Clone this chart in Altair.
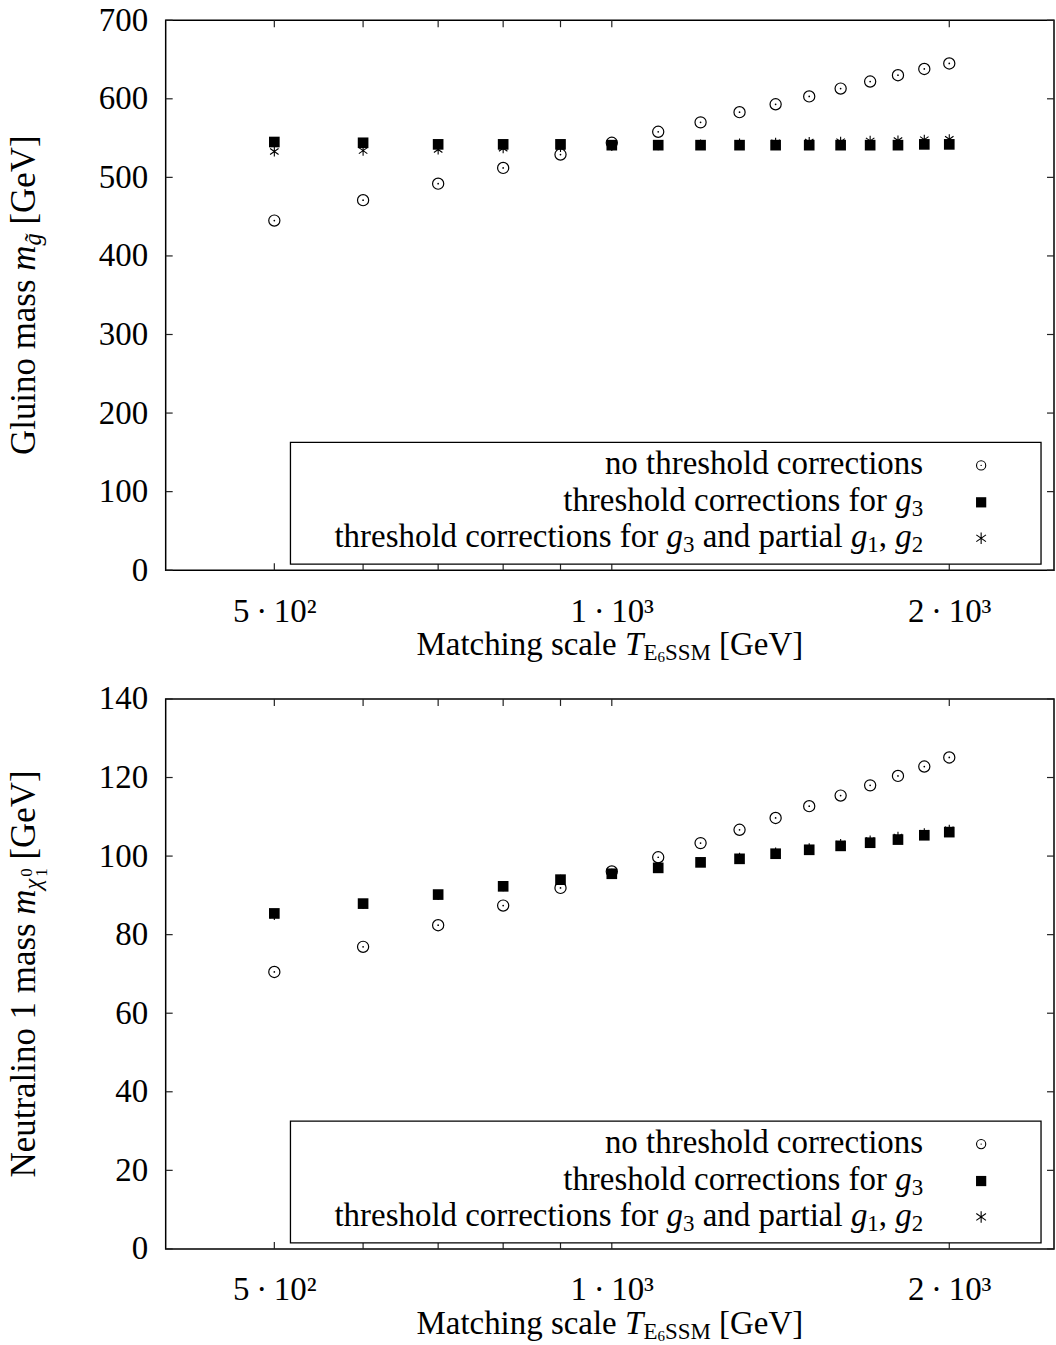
import unicodedata
import altair as alt
import pandas as pd

FONT = "Liberation Serif"
FS = 33      # main text size
SUB = 23     # subscript size
SSZ = 15     # sub-subscript size

# ---------------- data ----------------
T_SCALE = [500, 600, 700, 800, 900, 1000, 1100, 1200, 1300, 1400,
           1500, 1600, 1700, 1800, 1900, 2000]

GLUINO_NONE = [445, 471, 492, 512, 529, 544, 558, 570, 583, 593,
               603, 613, 622, 630, 638, 645]
GLUINO_G3 = [545, 544, 542, 542, 542, 541, 541, 541, 541, 541,
             541, 541, 541, 541, 542, 542]
GLUINO_G3_G12 = [533, 534, 535.5, 537, 538.5, 540, 541, 542, 543, 544,
                 545, 545.5, 546.5, 547, 548, 548.5]

NEUT_NONE = [70.5, 76.9, 82.4, 87.4, 91.9, 96.1, 99.7, 103.3, 106.7, 109.7,
             112.7, 115.4, 118.0, 120.4, 122.8, 125.1]
NEUT_G3 = [85.4, 87.9, 90.2, 92.3, 94.0, 95.5, 97.0, 98.4, 99.3, 100.6,
           101.6, 102.6, 103.4, 104.2, 105.3, 106.1]
NEUT_G3_G12 = [85.0, 87.8, 90.1, 92.3, 94.0, 95.5, 97.1, 98.5, 99.6, 100.9,
               102.0, 103.1, 104.0, 104.9, 105.8, 106.7]

X_DOMAIN = [400, 2480]
X_TICKS = [500, 600, 700, 800, 900, 1000, 2000]
X_LABEL_VALUES = [500, 1000, 2000]
X_LABEL_TEXT = ["5\u2009·\u200910²", "1\u2009·\u200910³", "2\u2009·\u200910³"]

GLUINO_YTICKS = [0, 100, 200, 300, 400, 500, 600, 700]
NEUT_YTICKS = [0, 20, 40, 60, 80, 100, 120, 140]

# rich-text pieces: (text, style)
X_TITLE = [("Matching scale", "rm"), ("", "gap"), ("T", "it"), ("E", "sub"),
           ("6", "subsub"), ("SSM", "sub"), ("", "gap"), ("[GeV]", "rm")]
GLUINO_TITLE = [("Gluino mass", "rm"), ("", "gap"), ("m", "it"),
                ("g\u0303", "subit"), ("", "gap"), ("[GeV]", "rm")]
NEUT_TITLE = [("Neutralino 1 mass", "rm"), ("", "gap"), ("m", "it"),
              ("χ", "subit"), ("0", "sup0"), ("1", "subsub2"), ("", "gap"),
              ("[GeV]", "rm")]
LEGEND_ROWS = [
    [("no threshold corrections", "rm")],
    [("threshold corrections for", "rm"), ("", "gap"), ("g", "it"), ("3", "sub")],
    [("threshold corrections for", "rm"), ("", "gap"), ("g", "it"), ("3", "sub"),
     ("", "gap"), ("and partial", "rm"), ("", "gap"), ("g", "it"), ("1", "sub"),
     (",", "rm"), ("", "gap"), ("g", "it"), ("2", "sub")],
]

# ---------------- layout ----------------
W, H = 890, 551
TL = 7
ONE = alt.Data(values=[{"k": 0}])

ROMAN = {' ': 250, '[': 333, ']': 333, ',': 250, 'a': 444, 'c': 444, 'd': 500,
         'e': 444, 'f': 333, 'g': 500, 'h': 500, 'i': 278, 'l': 278, 'm': 778,
         'n': 500, 'o': 500, 'p': 500, 'r': 333, 's': 389, 't': 278, 'u': 500,
         'M': 889, 'G': 722, 'N': 722, 'V': 722, 'E': 611, 'S': 556, 'T': 611}
ITALIC = {'T': 556, 'm': 722, 'g': 500, 'χ': 520}

# style: size, italic, baseline shift, advances
STYLE = {"rm": (FS, False, 0, True), "it": (FS, True, 0, True),
         "sub": (SUB, False, 5, True), "subit": (SUB, True, 6, True),
         "subsub": (SSZ, False, 7, True), "subsub2": (16, False, 11, True),
         "sup0": (16, False, -3, False), "gap": (FS, False, 0, True)}


def tw(text, st, k=1.0):
    size, italic, _, adv = STYLE[st]
    if st == "gap":
        return 0.25 * FS * k
    if not adv:
        return 0.0
    tab = ITALIC if italic else ROMAN
    tot = 0
    for ch in text:
        if unicodedata.combining(ch):
            continue
        tot += tab.get(ch, ROMAN.get(ch, 500))
    return tot * size * k / 1000.0


def run_width(parts, k=1.0):
    return sum(tw(t, s, k) for t, s in parts)


def text_layer(text, x, y, size, italic=False, angle=0):
    return alt.Chart(ONE).mark_text(
        text=text, align="left", baseline="alphabetic", font=FONT,
        fontSize=size, fontStyle="italic" if italic else "normal",
        angle=angle, color="black").encode(x=alt.value(x), y=alt.value(y))


def hrun(parts, x0, y0):
    out, x = [], x0
    for text, st in parts:
        size, italic, dy, adv = STYLE[st]
        if st != "gap":
            out.append(text_layer(text, x, y0 + dy, size, italic))
        x += tw(text, st)
    return out


def vrun(parts, x0, y0, k=1.0):
    out, y = [], y0
    for text, st in parts:
        size, italic, dy, adv = STYLE[st]
        if st != "gap":
            out.append(text_layer(text, x0 + dy * k, y, size * k, italic,
                                  angle=270))
        y -= tw(text, st, k)
    return out


STAR = "M0,-1L0,1M-0.85,-0.6L0.85,0.6M-0.85,0.6L0.85,-0.6"

label_expr = " : ".join(
    f"datum.value == {v} ? '{t}'" for v, t in zip(X_LABEL_VALUES, X_LABEL_TEXT)
) + " : ''"

XS = alt.Scale(type="log", domain=X_DOMAIN, nice=False)
XAX = alt.Axis(values=X_LABEL_VALUES, labelExpr=label_expr, title=None,
               labelPadding=25, tickSize=0, ticks=False, domain=False,
               grid=False, labelFlush=False, labelOverlap=False,
               labelFont=FONT, labelFontSize=FS, labelColor="black")

YTITLE_K = 1.06


def panel(ytop, yticks, s_none, s_g3, s_g12, ytitle):
    YS = alt.Scale(domain=[0, ytop], nice=False, zero=True)
    YAX = alt.Axis(values=yticks, format="d", title=None, labelPadding=18,
                   tickSize=0, ticks=False, domain=False, grid=False,
                   minExtent=165, maxExtent=165, labelFont=FONT,
                   labelFontSize=FS, labelColor="black")

    def X(f):
        return alt.X(f, type="quantitative", scale=XS, axis=XAX)

    def Y(f):
        return alt.Y(f, type="quantitative", scale=YS, axis=YAX)

    d_none = pd.DataFrame({"T": T_SCALE, "m": s_none})
    d_g3 = pd.DataFrame({"T": T_SCALE, "m": s_g3})
    d_g12 = pd.DataFrame({"T": T_SCALE, "m": s_g12})
    xt = pd.DataFrame({"t": X_TICKS})
    yt = pd.DataFrame({"v": yticks})

    tick_style = dict(color="#222222", strokeWidth=1.2)
    layers = [
        alt.Chart(xt).mark_rule(**tick_style).encode(
            x=X("t"), y=alt.value(H), y2=alt.value(H - TL)),
        alt.Chart(xt).mark_rule(**tick_style).encode(
            x=X("t"), y=alt.value(0), y2=alt.value(TL)),
        alt.Chart(yt).mark_rule(**tick_style).encode(
            y=Y("v"), x=alt.value(0), x2=alt.value(TL)),
        alt.Chart(yt).mark_rule(**tick_style).encode(
            y=Y("v"), x=alt.value(W - TL), x2=alt.value(W)),
        # no threshold corrections: open circle with centre dot
        alt.Chart(d_none).mark_point(shape="circle", filled=False, size=125,
                                     stroke="black", strokeWidth=1.2,
                                     opacity=1).encode(x=X("T"), y=Y("m")),
        alt.Chart(d_none).mark_point(shape="circle", filled=True, size=3,
                                     color="black", opacity=1).encode(
            x=X("T"), y=Y("m")),
        # threshold corrections for g3: filled square
        alt.Chart(d_g3).mark_point(shape="square", filled=True, size=114,
                                   color="black", opacity=1).encode(
            x=X("T"), y=Y("m")),
        # g3 and partial g1, g2: star
        alt.Chart(d_g12).mark_point(shape=STAR, filled=False, size=100,
                                    stroke="black", strokeWidth=1.1,
                                    opacity=1).encode(x=X("T"), y=Y("m")),
        # legend box
        alt.Chart(ONE).mark_rect(fill="white", stroke="black",
                                 strokeWidth=1.3).encode(
            x=alt.value(125), x2=alt.value(877),
            y=alt.value(423), y2=alt.value(545)),
    ]
    row_y = [446, 483, 519]
    for parts, ry in zip(LEGEND_ROWS, row_y):
        layers += hrun(parts, 759 - run_width(parts), ry + 9)
    layers += [
        alt.Chart(ONE).mark_point(shape="circle", filled=False, size=85,
                                  stroke="black", strokeWidth=1.1,
                                  opacity=1).encode(
            x=alt.value(817), y=alt.value(row_y[0])),
        alt.Chart(ONE).mark_point(shape="circle", filled=True, size=2,
                                  color="black", opacity=1).encode(
            x=alt.value(817), y=alt.value(row_y[0])),
        alt.Chart(ONE).mark_point(shape="square", filled=True, size=105,
                                  color="black", opacity=1).encode(
            x=alt.value(817), y=alt.value(row_y[1])),
        alt.Chart(ONE).mark_point(shape=STAR, filled=False, size=130,
                                  stroke="black", strokeWidth=1.1,
                                  opacity=1).encode(
            x=alt.value(817), y=alt.value(row_y[2])),
    ]
    # axis titles (rich text)
    layers += hrun(X_TITLE, W / 2 - run_width(X_TITLE) / 2, H + 85)
    layers += vrun(ytitle, -131, H / 2 + run_width(ytitle, YTITLE_K) / 2,
                   YTITLE_K)
    return alt.layer(*layers).properties(width=W, height=H)


top = panel(700, GLUINO_YTICKS, GLUINO_NONE, GLUINO_G3, GLUINO_G3_G12,
            GLUINO_TITLE)
bottom = panel(140, NEUT_YTICKS, NEUT_NONE, NEUT_G3, NEUT_G3_G12, NEUT_TITLE)

chart = alt.vconcat(top, bottom, spacing=129, bounds="flush").properties(
    padding={"left": 0, "top": 2, "right": 0, "bottom": 0},
    background="white",
).configure_view(
    stroke="black", strokeWidth=1.5
).configure_axis(
    labelFont=FONT, labelFontSize=FS, labelColor="black"
)

chart.save("out.html", embed_options={"renderer": "svg", "actions": False})
